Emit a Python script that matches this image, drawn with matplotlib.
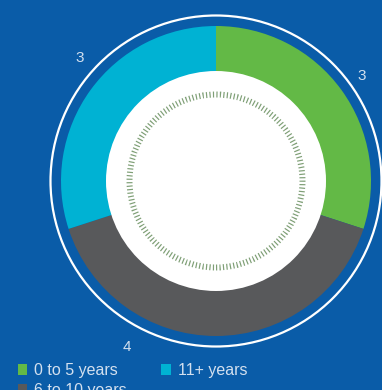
import matplotlib
matplotlib.use("Agg")
import matplotlib.pyplot as plt
from matplotlib.patches import Circle, Patch

# tenure bands
labels = ["0 to 5 years", "6 to 10 years", "11+ years"]
counts = [3, 4, 3]
colors = ["#63b946", "#58595b", "#00b2d3"]

bg = "#0a5ca8"
txt = "#d3e0ef"

fig = plt.figure(figsize=(3.82, 3.90), dpi=100, facecolor=bg)
ax = fig.add_axes([0, 0, 1, 1])
ax.set_facecolor(bg)

cx, cy = 216, 209
ax.pie(counts, colors=colors, startangle=90, counterclock=False,
       center=(cx, cy), radius=155,
       wedgeprops=dict(width=50, linewidth=0))

# outer thin ring, inner white disc and the dotted dial
ax.add_patch(Circle((cx, cy), 165.5, fill=False, ec="white", lw=1.6))
ax.add_patch(Circle((cx, cy), 110, fc="white", ec="none"))
ax.add_patch(Circle((cx, cy), 86.5, fill=False, ec="#7f9f76", lw=4.3,
                    linestyle=(0, (0.2, 0.38))))

# value labels around the ring
label_pos = [(362, 314), (127, 43), (80, 332)]
for (x, y), v in zip(label_pos, counts):
    ax.text(x, y, str(v), color=txt, fontsize=11, family="Liberation Sans",
            ha="center", va="center")

handles = [Patch(fc=c, ec="none") for c in colors]
leg = ax.legend(handles, labels, ncol=2, frameon=False, loc="upper left",
                bbox_to_anchor=(0.046, 0.069), prop=dict(family="Liberation Sans", size=11.5),
                handlelength=0.6, handleheight=0.65, handletextpad=0.45,
                columnspacing=2.15, labelspacing=0.3, borderaxespad=0, borderpad=0)
for t in leg.get_texts():
    t.set_color(txt)

ax.set_xlim(0, 382)
ax.set_ylim(0, 390)
ax.set_aspect("equal")
ax.axis("off")

fig.savefig("out.png", dpi=100, facecolor=bg)
